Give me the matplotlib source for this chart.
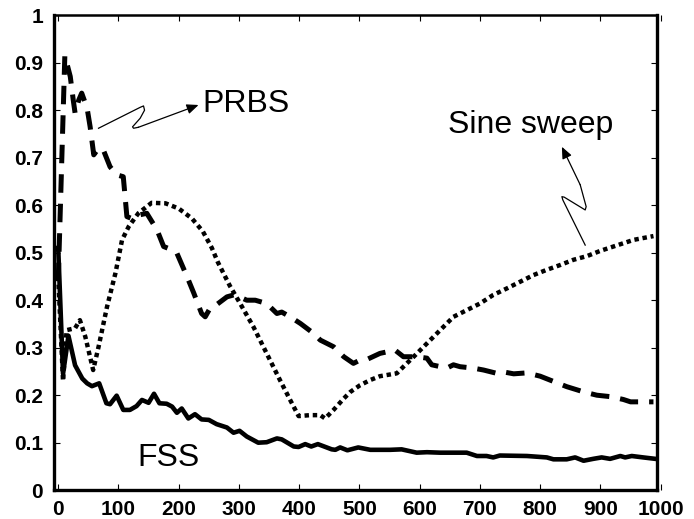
import matplotlib
matplotlib.use('Agg')

import numpy as np
import matplotlib.pyplot as plt

# values
fss_x = [0, 8, 17, 28, 40, 48, 56, 68, 80, 86, 97, 108, 119, 130, 139, 150, 159, 168, 180, 189,
         197, 205, 216, 227, 238, 250, 263, 280, 291, 301, 313, 332, 346, 363, 371, 391, 399, 410,
         420, 431, 454, 460, 468, 480, 498, 518, 551, 570, 595, 612, 634, 678, 695, 711, 722, 733,
         778, 789, 811, 822, 844, 858, 872, 888, 902, 916, 933, 941, 952, 971, 991]
fss_y = [0.51, 0.245, 0.325, 0.263, 0.235, 0.225, 0.219, 0.225, 0.183, 0.181, 0.199, 0.169, 0.169,
         0.177, 0.19, 0.184, 0.203, 0.183, 0.182, 0.176, 0.163, 0.172, 0.151, 0.16, 0.149, 0.148,
         0.139, 0.132, 0.121, 0.125, 0.113, 0.1, 0.101, 0.109, 0.107, 0.092, 0.091, 0.097, 0.092,
         0.097, 0.086, 0.085, 0.09, 0.084, 0.09, 0.085, 0.085, 0.086, 0.079, 0.08, 0.079, 0.079,
         0.072, 0.072, 0.069, 0.073, 0.072, 0.071, 0.069, 0.065, 0.065, 0.069, 0.062, 0.066, 0.069,
         0.066, 0.072, 0.069, 0.072, 0.069, 0.066]

prbs_x = [0, 11, 20, 25, 28, 34, 39, 48, 53, 59, 67, 75, 86, 97, 108, 111, 114, 122, 133, 147,
          164, 175, 189, 197, 214, 225, 238, 244, 252, 257, 280, 291, 299, 313, 327, 346, 363, 371,
          385, 402, 424, 435, 457, 474, 490, 501, 512, 534, 559, 573, 595, 612, 620, 645, 656, 667,
          689, 706, 728, 739, 756, 778, 800, 822, 844, 872, 894, 916, 938, 950, 988]
prbs_y = [0.44, 0.915, 0.871, 0.821, 0.794, 0.821, 0.836, 0.804, 0.765, 0.706, 0.72, 0.716, 0.681,
          0.664, 0.66, 0.618, 0.576, 0.572, 0.579, 0.583, 0.548, 0.513, 0.506, 0.499, 0.449, 0.415,
          0.372, 0.365, 0.383, 0.385, 0.407, 0.411, 0.408, 0.4, 0.4, 0.393, 0.372, 0.375, 0.365,
          0.351, 0.33, 0.316, 0.302, 0.281, 0.267, 0.274, 0.275, 0.288, 0.295, 0.281, 0.281, 0.278,
          0.264, 0.257, 0.264, 0.26, 0.257, 0.253, 0.246, 0.249, 0.245, 0.247, 0.24, 0.229, 0.218,
          0.207, 0.2, 0.197, 0.191, 0.186, 0.186]

sine_x = [0, 8, 14, 28, 36, 45, 58, 67, 81, 95, 106, 117, 133, 155, 178, 200, 222, 240, 255, 265,
          285, 302, 324, 346, 368, 385, 399, 418, 435, 443, 457, 474, 485, 501, 518, 534, 562, 573,
          590, 612, 634, 656, 678, 700, 722, 745, 767, 789, 811, 833, 855, 878, 900, 955, 988]
sine_y = [0.45, 0.23, 0.337, 0.341, 0.358, 0.323, 0.253, 0.302, 0.386, 0.457, 0.527, 0.555, 0.583,
          0.605, 0.604, 0.593, 0.572, 0.545, 0.51, 0.48, 0.43, 0.393, 0.344, 0.288, 0.232, 0.19,
          0.156, 0.158, 0.158, 0.151, 0.169, 0.193, 0.207, 0.221, 0.232, 0.24, 0.246, 0.26, 0.281,
          0.309, 0.337, 0.365, 0.379, 0.393, 0.411, 0.425, 0.439, 0.453, 0.464, 0.474, 0.485, 0.493,
          0.504, 0.527, 0.535]

x_ticks = [0, 100, 200, 300, 400, 500, 600, 700, 800, 900, 1000]
y_ticks = [0, 0.1, 0.2, 0.3, 0.4, 0.5, 0.6, 0.7, 0.8, 0.9, 1]

# squiggly label arrows (data coords)
prbs_arrow = [(66.9, 0.762), (136, 0.806), (141.6, 0.809), (143.3, 0.800), (136, 0.783),
              (123.4, 0.765), (125, 0.762), (133, 0.764)]
prbs_tip = (232.9, 0.811)
sine_arrow = [(874.7, 0.516), (837.6, 0.611), (836, 0.618), (839.8, 0.617), (874.7, 0.590),
              (876.3, 0.597), (866.4, 0.643)]
sine_tip = (836, 0.723)

fig = plt.figure(figsize=(6.94, 5.19), dpi=100)
ax = fig.add_axes([0.0778, 0.0555, 0.8742, 0.9152])

ax.plot(fss_x, fss_y, color='black', lw=3.3, solid_joinstyle='round')
ax.plot(prbs_x, prbs_y, color='black', lw=3.6, linestyle=(0, (3.7, 2.2)), dash_capstyle='butt')
ax.plot(sine_x, sine_y, color='black', lw=3.2, linestyle=(0, (1, 0.85)), dash_capstyle='butt')

for pts, tip in [(prbs_arrow, prbs_tip), (sine_arrow, sine_tip)]:
    xs, ys = zip(*pts)
    ax.plot(xs, ys, color='black', lw=0.9, solid_joinstyle='round')
    ax.annotate('', xy=tip, xytext=pts[-1],
                arrowprops=dict(arrowstyle='-|>,head_length=0.7,head_width=0.3',
                                color='black', lw=0.9, shrinkA=0, shrinkB=0))

lab_font = dict(family='Liberation Sans', fontsize=23)
ax.text(239, 0.796, 'PRBS', ha='left', va='baseline', **lab_font)
ax.text(647, 0.752, 'Sine sweep', ha='left', va='baseline', **lab_font)
ax.text(131, 0.051, 'FSS', ha='left', va='baseline', **lab_font)

ax.set_xlim(-7, 1000)
ax.set_ylim(0, 1)
ax.set_xticks(x_ticks)
ax.set_yticks(y_ticks)
ax.set_xticklabels(['%g' % v for v in x_ticks])
ax.set_yticklabels(['%g' % v for v in y_ticks])

ax.spines['right'].set_position(('data', 994))
ax.spines['top'].set_bounds(-7, 994)
ax.spines['bottom'].set_bounds(-7, 994)
for side in ['left', 'bottom', 'right']:
    ax.spines[side].set_linewidth(2.4)
ax.spines['top'].set_linewidth(1.8)

ax.tick_params(direction='in', length=4, width=0.8, top=True, right=True, labelright=False,
               labeltop=False)
ax.tick_params(axis='y', pad=8)
ax.tick_params(axis='x', pad=7)
for lab in ax.get_xticklabels() + ax.get_yticklabels():
    lab.set_fontfamily('Liberation Sans')
    lab.set_fontweight('bold')
    lab.set_fontsize(15)

fig.savefig('out.png', dpi=100)
